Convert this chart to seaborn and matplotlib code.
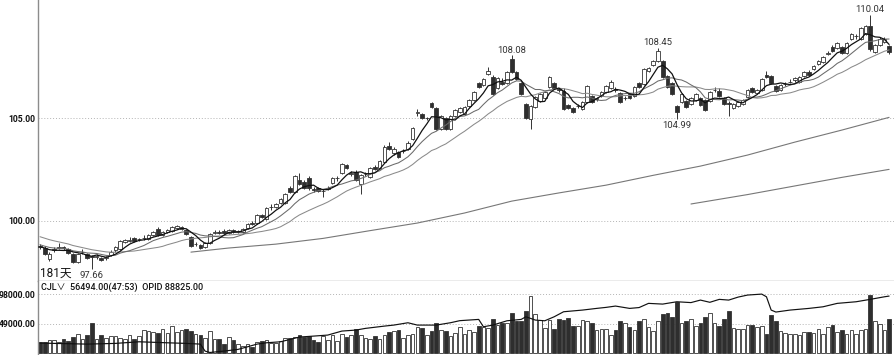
import matplotlib
matplotlib.use("Agg")
import matplotlib.pyplot as plt
import numpy as np
import pandas as pd
import seaborn as sns

# daily candles, 181 sessions
opens = [
    98.75, 98.65, 98.15, 98.55, 98.65, 98.7, 98.6, 98.4, 98.0, 98.5,
    98.4, 98.3, 98.25, 98.2, 98.2, 98.35, 98.55, 98.6, 98.95, 99.0,
    99.15, 99.1, 99.15, 99.1, 99.3, 99.6, 99.3, 99.45, 99.5, 99.65,
    99.6, 99.55, 99.2, 98.85, 98.8, 98.7, 98.9, 99.4, 99.45, 99.5,
    99.4, 99.55, 99.45, 99.45, 99.65, 99.9, 99.9, 100.3, 100.1, 100.65,
    100.65, 100.85, 100.85, 101.6, 101.4, 102.0, 101.9, 102.1, 101.55, 101.6,
    101.45, 101.55, 101.85, 102.1, 102.35, 102.7, 102.3, 102.4, 101.8, 102.3,
    102.15, 102.65, 102.6, 102.85, 103.65, 103.3, 103.35, 103.4, 103.5, 104.0,
    105.25, 105.2, 105.0, 105.75, 105.5, 104.5, 105.0, 104.5, 105.1, 105.3,
    105.2, 105.6, 105.9, 106.75, 106.65, 107.15, 107.0, 106.5, 106.8, 106.75,
    107.9, 107.25, 106.75, 105.7, 104.95, 105.55, 105.85, 106.0, 106.55, 106.75,
    106.45, 106.35, 105.65, 105.5, 105.6, 105.45, 105.8, 106.1, 105.95, 106.1,
    106.3, 106.5, 106.45, 106.25, 106.0, 106.2, 106.1, 106.75, 106.7, 107.3,
    107.6, 107.8, 107.8, 107.05, 106.75, 105.6, 105.8, 105.85, 105.7, 105.9,
    106.0, 105.9, 105.85, 106.4, 106.35, 106.0, 105.75, 105.5, 105.6, 105.7,
    106.05, 106.5, 106.25, 106.4, 107.1, 107.05, 106.6, 106.4, 106.7, 106.8,
    106.85, 106.8, 107.05, 107.25, 107.4, 107.65, 107.75, 108.15, 108.5, 108.45,
    108.5, 108.2, 108.9, 109.0, 108.9, 109.1, 109.5, 108.25, 108.6, 108.75, 108.55,
]
highs = [
    98.85, 98.75, 98.5, 98.7, 98.9, 98.75, 98.65, 98.45, 98.45, 98.6,
    98.45, 98.35, 98.4, 98.25, 98.3, 98.55, 98.75, 99.05, 99.1, 99.2,
    99.2, 99.15, 99.3, 99.35, 99.5, 99.7, 99.5, 99.6, 99.75, 99.8,
    99.75, 99.6, 99.25, 98.95, 98.85, 98.95, 99.4, 99.55, 99.55, 99.6,
    99.6, 99.6, 99.55, 99.65, 99.9, 100.0, 100.35, 100.35, 100.65, 100.8,
    100.85, 101.1, 101.35, 101.7, 102.25, 102.35, 102.0, 102.2, 101.65, 101.65,
    101.55, 101.7, 102.15, 102.2, 102.8, 102.75, 102.45, 102.5, 102.3, 102.4,
    102.65, 102.7, 102.95, 103.7, 103.85, 103.6, 103.4, 103.5, 103.9, 104.6,
    105.45, 105.25, 105.05, 105.8, 105.55, 105.15, 105.05, 105.15, 105.45, 105.55,
    105.6, 105.95, 106.35, 106.8, 106.95, 107.5, 107.1, 107.0, 106.95, 107.3,
    108.08, 107.3, 106.8, 105.75, 105.65, 106.1, 106.25, 106.35, 107.05, 106.8,
    106.5, 106.5, 105.7, 105.55, 105.7, 105.85, 106.65, 106.15, 106.05, 106.35,
    106.65, 106.85, 106.55, 106.3, 106.1, 106.25, 106.6, 106.8, 107.45, 107.5,
    107.85, 108.45, 107.85, 107.1, 106.8, 105.65, 106.25, 105.9, 106.05, 106.25,
    106.05, 105.95, 106.35, 106.55, 106.5, 106.05, 105.85, 105.75, 105.85, 105.95,
    106.45, 106.55, 106.45, 106.95, 107.3, 107.1, 106.65, 106.7, 106.8, 106.9,
    107.0, 107.05, 107.3, 107.35, 107.6, 107.85, 108.05, 108.3, 108.6, 108.75,
    108.55, 108.75, 109.15, 109.1, 109.45, 109.55, 110.04, 108.65, 108.95, 108.95, 108.6,
]
lows = [
    98.6, 98.35, 98.05, 98.5, 98.6, 98.55, 98.4, 97.95, 97.95, 98.4,
    98.15, 97.66, 98.15, 98.05, 98.1, 98.3, 98.5, 98.55, 98.9, 98.95,
    98.95, 99.0, 99.05, 99.05, 99.25, 99.25, 99.25, 99.4, 99.45, 99.6,
    99.55, 99.3, 98.7, 98.75, 98.6, 98.65, 98.85, 99.35, 99.35, 99.35,
    99.35, 99.4, 99.4, 99.4, 99.6, 99.8, 99.85, 100.15, 100.05, 100.55,
    100.6, 100.8, 100.8, 101.35, 101.35, 101.75, 101.55, 101.5, 101.4, 101.4,
    101.15, 101.5, 101.8, 101.95, 102.3, 102.55, 102.2, 101.95, 101.3, 102.2,
    102.1, 102.5, 102.55, 102.8, 103.45, 103.2, 103.05, 103.3, 103.45, 103.95,
    105.1, 104.95, 104.9, 105.5, 104.45, 104.45, 104.45, 104.45, 105.05, 105.25,
    105.15, 105.55, 105.85, 106.5, 106.6, 107.1, 106.15, 106.45, 106.65, 106.7,
    107.2, 106.85, 106.15, 104.95, 104.5, 105.5, 105.8, 105.95, 106.5, 106.45,
    106.3, 105.4, 105.45, 105.25, 105.5, 105.4, 105.75, 105.75, 105.85, 106.05,
    106.25, 106.45, 106.3, 105.75, 105.9, 105.95, 106.05, 106.5, 106.65, 107.25,
    107.55, 107.75, 106.95, 106.5, 106.15, 104.99, 105.75, 105.5, 105.65, 105.85,
    105.6, 105.35, 105.8, 106.3, 106.05, 105.65, 105.1, 105.45, 105.55, 105.65,
    106.0, 106.25, 106.2, 106.35, 106.95, 106.7, 106.3, 106.35, 106.6, 106.75,
    106.8, 106.75, 107.0, 107.05, 107.35, 107.6, 107.7, 108.1, 108.25, 108.4,
    108.15, 108.15, 108.85, 108.9, 108.85, 109.05, 108.3, 108.2, 108.55, 108.7, 108.15,
]
closes = [
    98.7, 98.4, 98.4, 98.6, 98.7, 98.65, 98.45, 98.0, 98.4, 98.5,
    98.2, 98.25, 98.3, 98.1, 98.25, 98.5, 98.7, 99.0, 99.05, 99.05,
    99.0, 99.1, 99.15, 99.3, 99.45, 99.3, 99.45, 99.55, 99.7, 99.75,
    99.7, 99.35, 98.75, 98.85, 98.65, 98.9, 99.35, 99.45, 99.4, 99.4,
    99.55, 99.45, 99.5, 99.6, 99.85, 99.85, 100.3, 100.2, 100.6, 100.65,
    100.8, 101.05, 101.3, 101.4, 102.2, 101.8, 101.6, 101.6, 101.5, 101.45,
    101.45, 101.6, 102.1, 102.1, 102.75, 102.6, 102.35, 102.0, 102.25, 102.3,
    102.6, 102.55, 102.9, 103.6, 103.5, 103.5, 103.1, 103.4, 103.8, 104.55,
    105.3, 105.0, 105.0, 105.55, 104.5, 105.1, 104.5, 105.1, 105.4, 105.5,
    105.55, 105.9, 106.3, 106.55, 106.9, 107.3, 106.2, 106.95, 106.7, 107.25,
    107.25, 106.9, 106.2, 105.0, 105.6, 106.05, 106.2, 106.3, 107.0, 106.5,
    106.4, 105.45, 105.5, 105.3, 105.6, 105.8, 106.6, 105.8, 106.0, 106.3,
    106.6, 106.8, 106.4, 105.8, 106.0, 106.0, 106.55, 106.55, 107.4, 107.45,
    107.8, 108.3, 107.0, 106.55, 106.2, 105.3, 106.2, 105.55, 106.0, 106.2,
    105.65, 105.4, 106.3, 106.4, 106.1, 105.7, 105.7, 105.7, 105.8, 105.9,
    106.4, 106.3, 106.4, 106.9, 107.0, 106.75, 106.35, 106.65, 106.7, 106.8,
    106.95, 107.0, 107.25, 107.1, 107.55, 107.8, 108.0, 108.2, 108.3, 108.7,
    108.2, 108.7, 109.1, 109.0, 109.4, 109.5, 108.4, 108.6, 108.9, 108.9, 108.25,
]
# closes before the visible window, only feed the left end of MA10/MA20
prior_closes = [99.9, 99.8, 99.75, 99.7, 99.6, 99.55, 99.5, 99.45, 99.5, 99.4,
                99.1, 99.0, 98.9, 98.85, 98.8, 98.7, 98.8, 98.75, 98.7]

volumes = [
    18500, 18500, 21800, 21800, 18500, 22800, 20100, 27200, 32100, 23900,
    31000, 50000, 22800, 31000, 25600, 28300, 28300, 25600, 23900, 29400,
    22800, 28300, 39200, 36400, 34800, 33700, 40300, 33700, 45700, 36000,
    38000, 40300, 37000, 32600, 29900, 24500, 37000, 22800, 22800, 15200,
    26100, 21800, 15200, 12000, 15200, 10900, 19000, 20700, 21800, 17400,
    17400, 20700, 24500, 24500, 26100, 31000, 26100, 28300, 21800, 19000,
    28300, 21800, 31000, 20100, 32600, 26700, 31000, 40300, 31000, 25600,
    22800, 28300, 23900, 31000, 34800, 36400, 39200, 25600, 31000, 32100,
    43500, 41900, 31000, 36400, 50000, 38100, 37500, 28300, 33700, 43500,
    32600, 38100, 34800, 44600, 43000, 41900, 56600, 47300, 51100, 50000,
    66400, 52800, 54400, 70700, 94700, 65300, 55500, 41900, 55500, 40300,
    56600, 55500, 58200, 44600, 45700, 55500, 52800, 50000, 38100, 40300,
    40300, 29400, 39200, 54400, 50000, 43500, 39200, 54400, 57100, 43500,
    36400, 52800, 65300, 66400, 60900, 85400, 50000, 54400, 56600, 45700,
    50000, 60900, 67500, 51100, 45700, 56600, 70700, 41900, 40300, 40300,
    47300, 47300, 43500, 44600, 32600, 63600, 52800, 36400, 33700, 32600,
    32600, 31000, 35900, 35400, 33700, 40300, 32600, 43500, 47300, 35900,
    39200, 32600, 39200, 32600, 38100, 40300, 97900, 52800, 49000, 39200, 56494,
]

# open interest line, read at these sessions
oi_index = [0, 10, 16, 21, 27, 31, 34, 35, 36, 39, 42, 44, 46, 48, 51, 55, 58, 61, 64, 67,
            69, 73, 75, 78, 80, 84, 87, 89, 93, 94, 96, 99, 102, 103, 105, 107, 109, 111, 115, 118,
            120, 122, 125, 127, 129, 132, 135, 138, 140, 142, 144, 146, 148, 150, 153, 154, 155, 156, 159, 163,
            166, 169, 173, 176, 179, 180]
oi_value = [16700, 15000, 16200, 18900, 17200, 16200, 15000, 3300, 1000, 3300,
            6200, 10500, 15000, 17200, 18900, 26800, 28400, 30100, 36800, 38500,
            41300, 45100, 46800, 50700, 46800, 46800, 50700, 54200, 56300, 44000,
            46800, 54000, 56300, 60700, 55200, 54000, 60700, 69100, 71900, 74700,
            76400, 78600, 74700, 76100, 83100, 81900, 85800, 84400, 88600, 84900,
            89800, 88600, 93600, 97000, 98600, 94100, 71900, 68600, 71900, 74700,
            77400, 83100, 85800, 89800, 94100, 95300]

# the two long averages, read at these sessions
long_a_index = [32, 40, 50, 60, 70, 80, 90, 100, 110, 120, 130, 140, 150, 160, 170, 180]
long_a_value = [98.47, 98.67, 98.86, 99.14, 99.52, 99.89, 100.38, 100.96, 101.36, 101.74,
                102.22, 102.67, 103.21, 103.84, 104.43, 105.05]
long_b_index = [138, 150, 160, 170, 180]
long_b_value = [100.82, 101.28, 101.70, 102.12, 102.51]

price_ticks = [100, 105]
vol_ticks = [49000, 98000]

sns.set_style("white")
plt.rcParams["font.family"] = ["Roboto", "Noto Sans CJK SC", "DejaVu Sans"]

n = len(closes)
df = pd.DataFrame({"i": np.arange(n), "open": opens, "high": highs,
                   "low": lows, "close": closes, "vol": volumes})
hist = pd.Series(prior_closes + closes)
for w in (5, 10, 20):
    df[f"ma{w}"] = hist.rolling(w).mean().iloc[len(prior_closes):].to_numpy()
up = df["close"] >= df["open"]
body_col = np.where(up, "white", "#2e2e2e")
edge_col = "#333333"

fig = plt.figure(figsize=(8.95, 3.55), dpi=100)
left = 38 / 895
split = 74 / 355
ax = fig.add_axes([left, split, 1 - left, 1 - split])
axv = fig.add_axes([left, 0, 1 - left, split])

grid_kw = dict(color="#b4b4b4", lw=0.7, ls=(0, (1, 2)), zorder=0)

# price panel
for t in price_ticks:
    ax.axhline(t, **grid_kw)
ax.vlines(df["i"], df["low"], df["high"], color=edge_col, lw=0.7, zorder=2)
ax.bar(df["i"], df["close"] - df["open"], bottom=df["open"], width=0.78,
       color=body_col, edgecolor=edge_col, linewidth=0.6, zorder=3)

sns.lineplot(x=long_a_index, y=long_a_value, ax=ax, color="#777777", lw=0.8, estimator=None)
sns.lineplot(x=long_b_index, y=long_b_value, ax=ax, color="#777777", lw=0.8, estimator=None)
sns.lineplot(data=df, x="i", y="ma20", ax=ax, color="#8a8a8a", lw=0.75, estimator=None, zorder=4)
sns.lineplot(data=df, x="i", y="ma10", ax=ax, color="#6a6a6a", lw=0.75, estimator=None, zorder=4)
sns.lineplot(data=df, x="i", y="ma5", ax=ax, color="#111111", lw=0.9, estimator=None, zorder=5)

ax.set_xlim(-0.42, 181.25)
ax.set_ylim(97.06, 110.78)
ax.set_yticks(price_ticks)
ax.set_yticklabels([f"{t:.2f}" for t in price_ticks])
ax.set_xticks([])
ax.set_xlabel("")
ax.set_ylabel("")

lab = dict(fontsize=6.8, color="#333333", ha="center")
for k, txt in [(100, "108.08"), (131, "108.45"), (176, "110.04")]:
    ax.annotate(txt, (k, highs[k]), xytext=(0, 0.5), textcoords="offset points", va="bottom", **lab)
for k, txt in [(11, "97.66"), (135, "104.99")]:
    ax.annotate(txt, (k, lows[k]), xytext=(0, -2), textcoords="offset points", va="top", **lab)
ax.text(0.002, 0.006, "181天", transform=ax.transAxes, fontsize=8.5, color="#111111",
        ha="left", va="bottom")

# volume panel
for t in vol_ticks:
    axv.axhline(t, **grid_kw)
axv.bar(df["i"], df["vol"], width=0.78, color=body_col, edgecolor=edge_col,
        linewidth=0.6, zorder=2)
sns.lineplot(x=oi_index, y=oi_value, ax=axv, color="#111111", lw=0.85, estimator=None, zorder=3)
axv.set_xlim(-0.42, 181.25)
axv.set_ylim(-3200, 120500)
axv.set_yticks(vol_ticks)
axv.set_yticklabels([f"{t:.2f}" for t in vol_ticks])
axv.set_xticks([])
axv.set_xlabel("")
axv.set_ylabel("")
axv.text(0.003, 0.915, "CJL\u2228  56494.00(47:53)  OPID 88825.00", transform=axv.transAxes,
         fontsize=6.5, color="#111111", ha="left", va="center", fontweight="medium")

for a in (ax, axv):
    a.tick_params(axis="y", length=0, pad=2, labelsize=6.2, labelcolor="#111111")
    for lbl in a.get_yticklabels():
        lbl.set_fontweight("bold")
    for s in ("top", "right", "bottom"):
        a.spines[s].set_visible(False)
    a.spines["left"].set_color("#8c8c8c")
    a.spines["left"].set_linewidth(1.0)
ax.spines["bottom"].set_visible(True)
ax.spines["bottom"].set_color("#9a9a9a")
ax.spines["bottom"].set_linewidth(1.0)

fig.savefig("out.png", dpi=100)
